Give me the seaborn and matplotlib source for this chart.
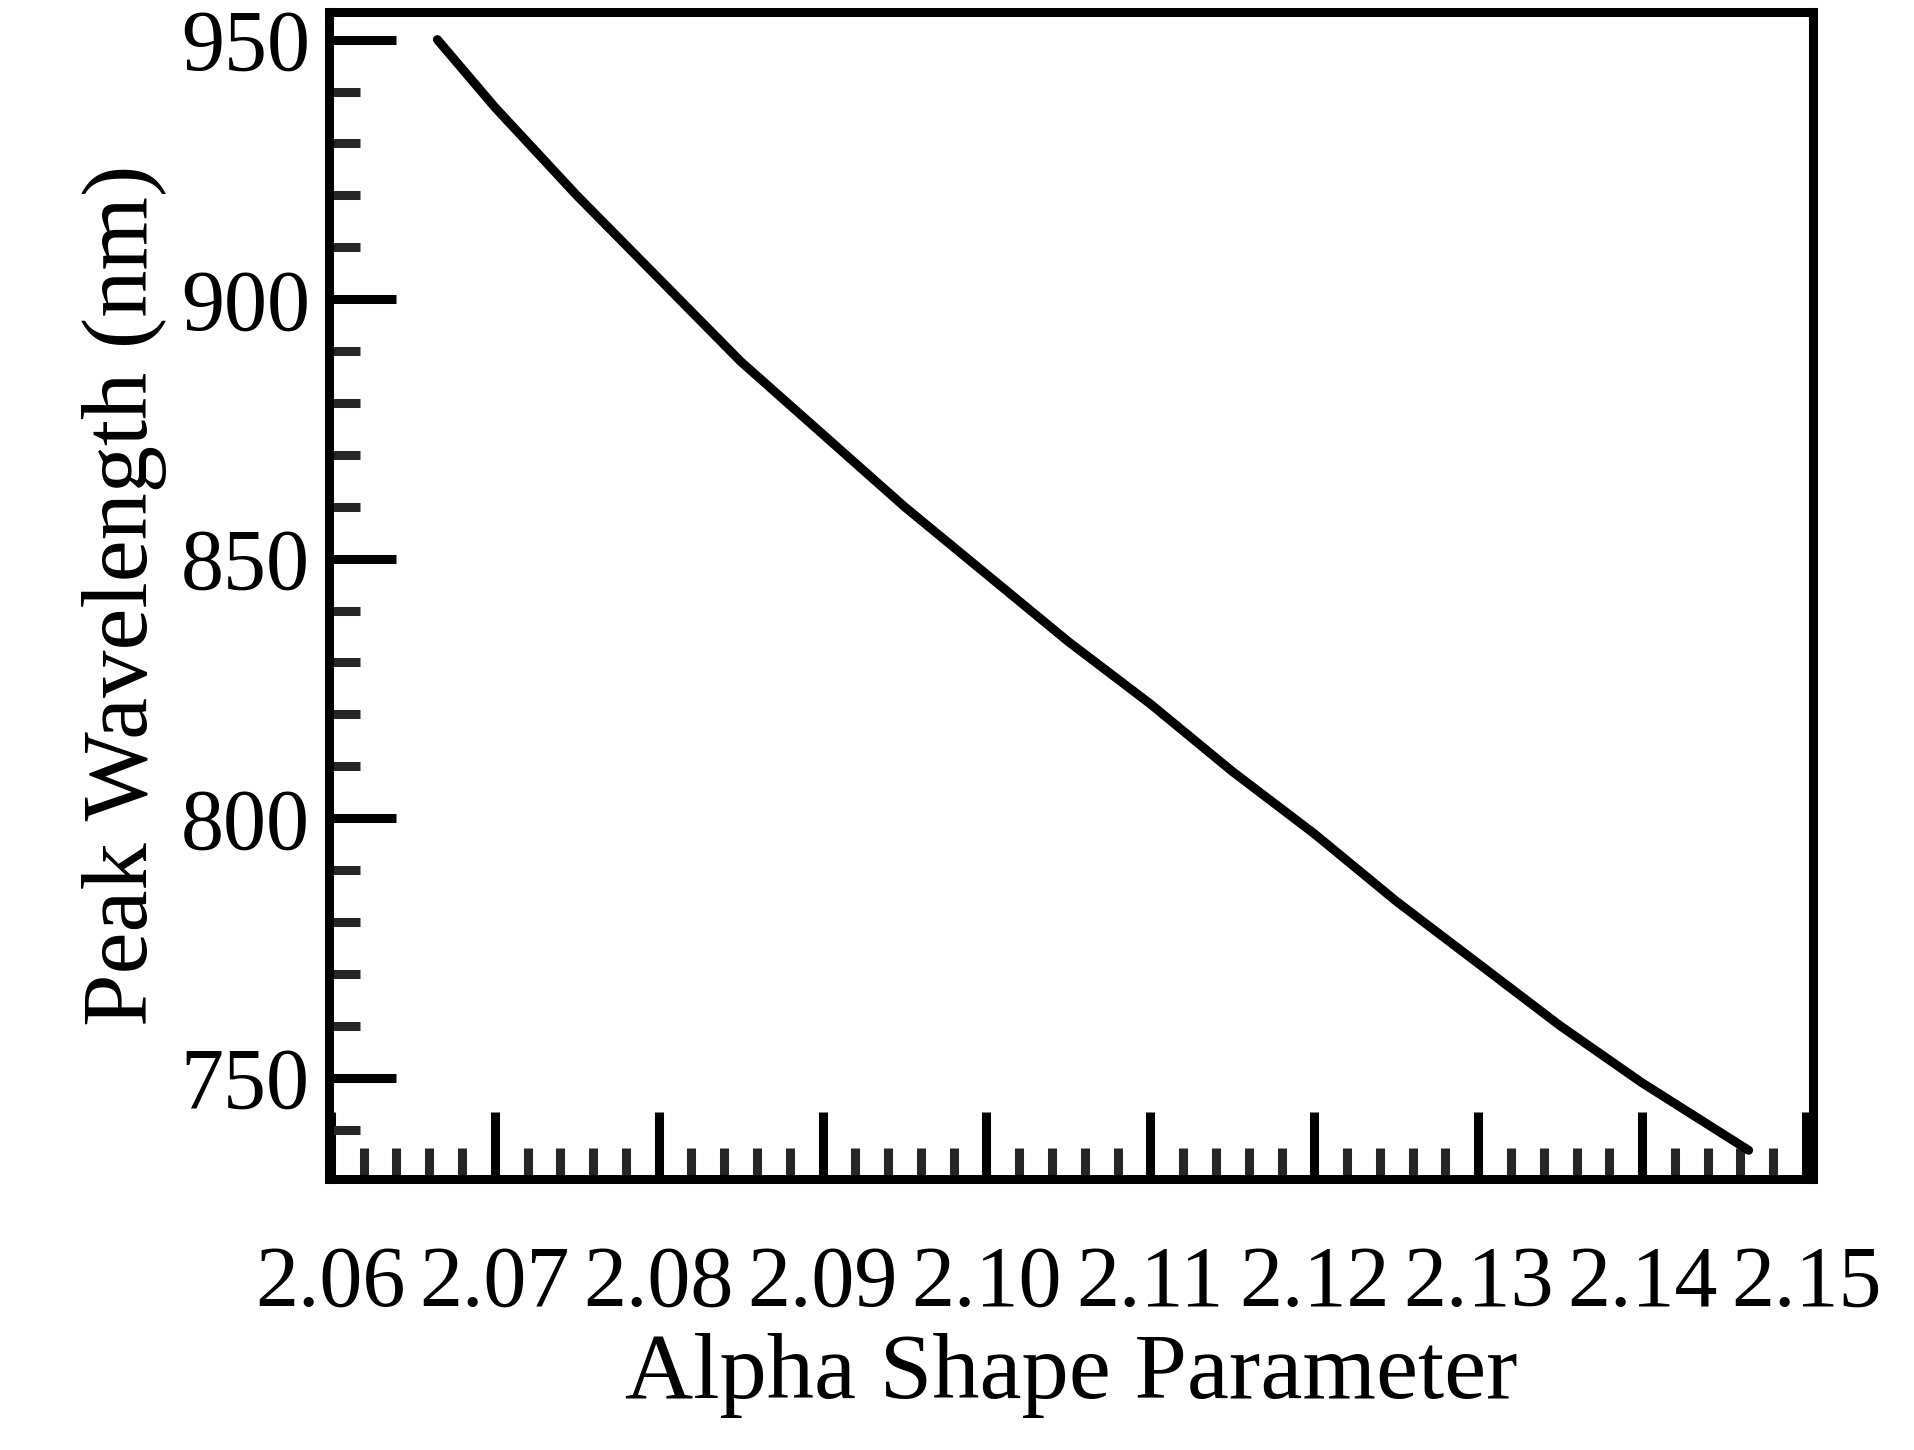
import matplotlib
matplotlib.use("Agg")
import matplotlib.pyplot as plt
import seaborn as sns
import pandas as pd
from matplotlib.ticker import MultipleLocator

alpha = [2.0665, 2.07, 2.075, 2.08, 2.085, 2.09, 2.095, 2.10, 2.105, 2.11, 2.115, 2.12, 2.125, 2.13, 2.135, 2.14, 2.1465]
peak = [950, 937, 920, 904, 888, 874, 860, 847, 834, 822, 809, 797, 784, 772, 760, 749, 736]
xticks = [2.06, 2.07, 2.08, 2.09, 2.10, 2.11, 2.12, 2.13, 2.14, 2.15]
xticklabels = ["2.06", "2.07", "2.08", "2.09", "2.10", "2.11", "2.12", "2.13", "2.14", "2.15"]
yticks = [750, 800, 850, 900, 950]

sns.set_theme(style="white")
plt.rcParams['font.family'] = ['Liberation Serif', 'DejaVu Serif']
plt.rcParams['text.color'] = 'black'
plt.rcParams['axes.labelcolor'] = 'black'

fig = plt.figure(figsize=(19.14, 14.5), dpi=100)
ax = fig.add_axes([0.172, 0.187, 0.775, 0.805])
df = pd.DataFrame({"a": alpha, "p": peak})
sns.lineplot(data=df, x="a", y="p", ax=ax, color="black", lw=6.5)
ax.set_xlim(2.0599, 2.1504)
ax.set_ylim(730.5, 955.4)
ax.set_xticks(xticks)
ax.set_xticklabels(xticklabels)
ax.set_yticks(yticks)
ax.xaxis.set_minor_locator(MultipleLocator(0.002))
ax.yaxis.set_minor_locator(MultipleLocator(10))
ax.tick_params(which="major", direction="in", length=48, width=6.5, labelsize=62, colors="black")
ax.tick_params(which="minor", direction="in", length=22, width=6.5)
ax.tick_params(axis="x", which="major", pad=48)
ax.tick_params(axis="y", which="major", pad=14)
ax.tick_params(bottom=True, left=True, top=False, right=False, which="both")
for s in ax.spines.values():
    s.set_linewidth(6.5)
    s.set_color("black")
ax.set_xlabel("Alpha Shape Parameter", fontsize=68, labelpad=6, color="black")
ax.set_ylabel("Peak Wavelength (nm)", fontsize=68, labelpad=10, color="black")
fig.savefig("out.png", dpi=100)
